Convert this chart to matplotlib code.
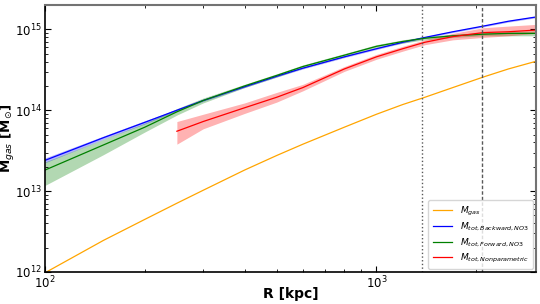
import numpy as np
import matplotlib
matplotlib.use('Agg')
import matplotlib.pyplot as plt

# rayons (kpc)
R = np.array([100, 150, 200, 250, 300, 400, 500, 600, 800, 1000, 1200, 1400, 1700, 2100, 2500, 3000])

# log10(M / Msun)
log_gas = np.array([11.99, 12.39, 12.65, 12.85, 13.01, 13.26, 13.44, 13.58, 13.79, 13.95,
                    14.07, 14.16, 14.28, 14.41, 14.51, 14.60])

log_back = np.array([13.38, 13.66, 13.85, 14.00, 14.12, 14.29, 14.42, 14.52, 14.66, 14.76,
                     14.84, 14.90, 14.97, 15.04, 15.10, 15.15])
log_back_lo = np.array([13.35, 13.64, 13.83, 13.99, 14.11, 14.28, 14.41, 14.51, 14.65, 14.75,
                        14.83, 14.89, 14.96, 15.03, 15.09, 15.14])
log_back_hi = np.array([13.41, 13.68, 13.87, 14.01, 14.13, 14.30, 14.43, 14.53, 14.67, 14.77,
                        14.85, 14.91, 14.98, 15.05, 15.11, 15.16])

log_fwd = np.array([13.26, 13.57, 13.79, 13.98, 14.12, 14.30, 14.43, 14.54, 14.68, 14.79,
                    14.85, 14.89, 14.92, 14.94, 14.95, 14.95])
log_fwd_lo = np.array([13.07, 13.45, 13.73, 13.94, 14.09, 14.28, 14.41, 14.52, 14.66, 14.77,
                       14.83, 14.87, 14.90, 14.92, 14.92, 14.92])
log_fwd_hi = np.array([13.36, 13.64, 13.84, 14.02, 14.15, 14.32, 14.45, 14.56, 14.70, 14.81,
                       14.87, 14.91, 14.94, 14.96, 14.97, 14.98])

# non parametrique : commence a 250 kpc
R_np = np.array([250, 300, 400, 500, 600, 800, 1000, 1200, 1400, 1700, 2100, 2500, 3000])
log_np = np.array([13.74, 13.86, 14.03, 14.16, 14.28, 14.51, 14.66, 14.76, 14.84, 14.91,
                   14.96, 14.97, 14.99])
log_np_lo = np.array([13.58, 13.77, 13.96, 14.10, 14.24, 14.48, 14.63, 14.73, 14.81, 14.87,
                      14.90, 14.92, 14.95])
log_np_hi = np.array([13.86, 13.95, 14.09, 14.22, 14.32, 14.54, 14.69, 14.79, 14.87, 14.95,
                      15.02, 15.04, 15.06])

# rayons caracteristiques (kpc)
r_dotted = 1375
r_dashed = 2080

fig = plt.figure(figsize=(5.4, 3.04), dpi=100)
ax = fig.add_axes([0.0833, 0.1053, 0.9093, 0.8783])

ax.plot(R, 10**log_gas, color='orange', lw=0.9, label=r'$M_{gas}$')

ax.fill_between(R, 10**log_back_lo, 10**log_back_hi, color='blue', alpha=0.3, lw=0)
ax.plot(R, 10**log_back, color='blue', lw=0.9, label=r'$M_{tot, Backward, NO3}$')

ax.fill_between(R, 10**log_fwd_lo, 10**log_fwd_hi, color='green', alpha=0.3, lw=0)
ax.plot(R, 10**log_fwd, color='green', lw=0.9, label=r'$M_{tot, Forward, NO3}$')

ax.fill_between(R_np, 10**log_np_lo, 10**log_np_hi, color='red', alpha=0.3, lw=0)
ax.plot(R_np, 10**log_np, color='red', lw=0.9, label=r'$M_{tot, Nonparametric}$')

ax.axvline(r_dotted, color='0.35', ls=':', lw=1.0)
ax.axvline(r_dashed, color='0.35', ls='--', lw=1.0, dashes=(2.5, 1.5))

ax.set_xscale('log')
ax.set_yscale('log')
ax.set_xlim(100, 3030)
ax.set_ylim(1e12, 2e15)

ax.tick_params(which='both', direction='in', top=True, right=True, labelsize=8.5, pad=2)
ax.tick_params(which='major', length=4)
ax.tick_params(which='minor', length=2)
for s in ['top', 'right']:
    ax.spines[s].set_color('0.45')
    ax.spines[s].set_linewidth(1.5)
for s in ['left', 'bottom']:
    ax.spines[s].set_linewidth(1.2)

ax.set_xlabel('R [kpc]', fontsize=10, fontweight='bold', labelpad=-3)
ax.set_ylabel(r'M$_{gas}$ [M$_{\odot}$]', fontsize=9.5, fontweight='bold')
ax.yaxis.set_label_coords(-0.056, 0.5)

ax.legend(loc='lower right', fontsize=6.5, handlelength=2.2, borderpad=0.5,
          labelspacing=0.35, borderaxespad=0.3)

plt.savefig('out.png', dpi=100)
